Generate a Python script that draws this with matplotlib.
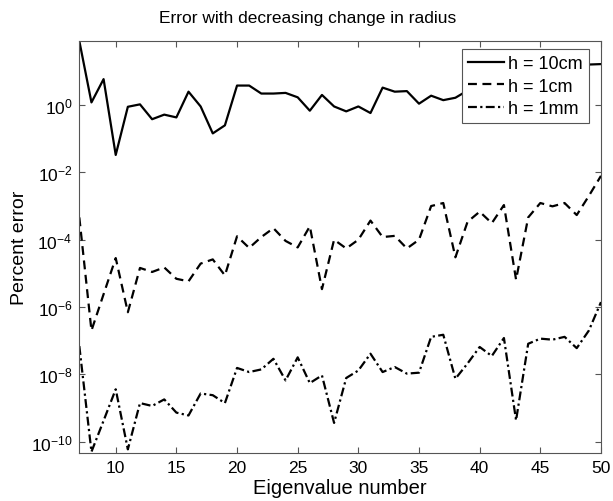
import matplotlib.pyplot as plt
from matplotlib.ticker import NullLocator, LogFormatterMathtext

plt.rcParams['font.family'] = ['Liberation Sans', 'DejaVu Sans']
plt.rcParams['mathtext.default'] = 'regular'

eig = list(range(7, 51))

err_10cm = [80, 1.2, 5.9, 0.033, 0.89, 1.05, 0.38, 0.52, 0.43, 2.5,
            0.91, 0.144, 0.25, 3.8, 3.8, 2.2, 2.2, 2.3, 1.7, 0.68,
            2.0, 0.91, 0.65, 0.91, 0.58, 3.3, 2.5, 2.6, 1.1, 1.9,
            1.4, 1.65, 2.7, 3.2, 4.0, 3.6, 5.0, 4.5, 6.5, 6.0,
            9.0, 11.0, 16.0, 16.5]

err_1cm = [4.6e-4, 2e-7, 2.4e-6, 2.85e-5, 7e-7, 1.45e-5, 1.1e-5, 1.5e-5, 6.9e-6, 5.8e-6,
           1.95e-5, 2.6e-5, 8.7e-6, 1.26e-4, 5.7e-5, 1.2e-4, 2.2e-4, 9.2e-5, 5.9e-5, 2.5e-4,
           3.4e-6, 1e-4, 5.5e-5, 1e-4, 3.7e-4, 1.2e-4, 1.3e-4, 5.5e-5, 1e-4, 1.0e-3,
           1.23e-3, 3e-5, 3.4e-4, 6.8e-4, 3.1e-4, 1.07e-3, 6.5e-6, 4.6e-4, 1.23e-3, 9.8e-4,
           1.23e-3, 5.4e-4, 2e-3, 7.9e-3]

err_1mm = [6.9e-8, 5e-11, 4.2e-10, 3.6e-9, 5.9e-11, 1.4e-9, 1.15e-9, 1.8e-9, 7.3e-10, 6e-10,
           2.7e-9, 2.4e-9, 1.4e-9, 1.55e-8, 1.17e-8, 1.4e-8, 2.9e-8, 6.6e-9, 3.2e-8, 5.5e-9,
           9.3e-9, 3.6e-10, 7.8e-9, 1.3e-8, 4.1e-8, 1.17e-8, 1.65e-8, 1.05e-8, 1.12e-8, 1.3e-7,
           1.5e-7, 7.4e-9, 2.1e-8, 6.5e-8, 3.5e-8, 1.2e-7, 4.3e-10, 8.1e-8, 1.15e-7, 1.07e-7,
           1.3e-7, 6e-8, 2e-7, 1.4e-6]

fig = plt.figure(figsize=(6.13, 5.02), dpi=100)
ax = fig.add_axes([0.1294, 0.0956, 0.851, 0.8207])

ax.semilogy(eig, err_10cm, color='black', lw=1.6, ls='-', label='h = 10cm')
ax.semilogy(eig, err_1cm, color='black', lw=1.6, ls=(0, (4, 2.5)), label='h = 1cm')
ax.semilogy(eig, err_1mm, color='black', lw=1.6, ls=(0, (4, 1.5, 1, 1.5)), label='h = 1mm')

ax.set_xlim(7, 50)
ax.set_ylim(4.6e-11, 80)
ax.set_xticks([10, 15, 20, 25, 30, 35, 40, 45, 50])
ax.set_yticks([1e-10, 1e-8, 1e-6, 1e-4, 1e-2, 1e0])
ax.yaxis.set_major_formatter(LogFormatterMathtext())
ax.yaxis.set_minor_locator(NullLocator())

for s in ax.spines.values():
    s.set_color('#555555')
    s.set_linewidth(0.8)
ax.tick_params(direction='in', top=True, right=True, length=4,
               color='#555555', labelsize=12.5, pad=5)

fig.text(0.502, 0.963, 'Error with decreasing change in radius', fontsize=12.5,
         ha='center', va='center')
ax.set_xlabel('Eigenvalue number', fontsize=14.5, labelpad=2)
ax.set_ylabel('Percent error', fontsize=14)
ax.yaxis.set_label_coords(-0.098, 0.5)

leg = ax.legend(loc='upper right', bbox_to_anchor=(0.977, 0.9806), fontsize=13,
                fancybox=False, framealpha=1, edgecolor='#555555',
                handlelength=2.0, handletextpad=0.2, borderaxespad=0,
                labelspacing=0.3, borderpad=0.35)
leg.get_frame().set_linewidth(0.8)

fig.savefig('out.png', dpi=100)
